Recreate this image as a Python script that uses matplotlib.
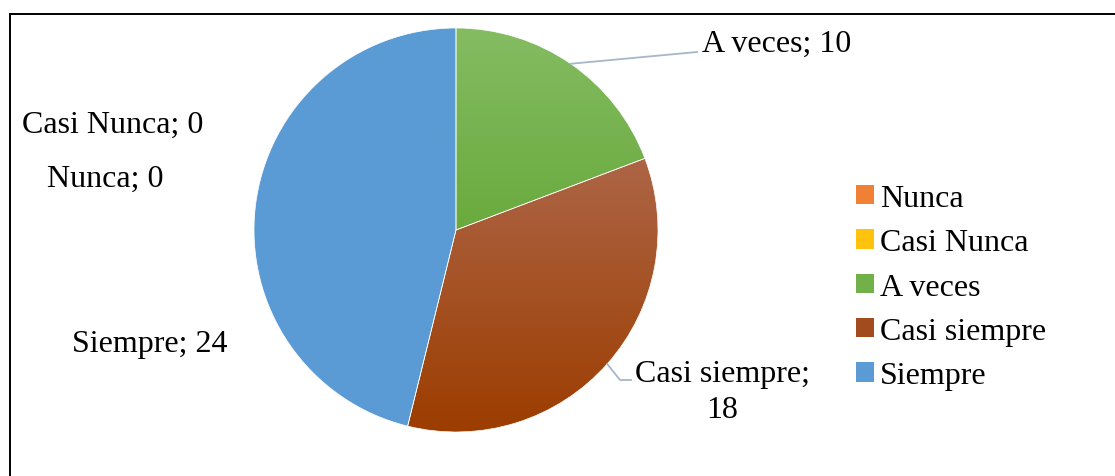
import numpy as np
import matplotlib.pyplot as plt
from matplotlib.patches import Rectangle, Patch
from matplotlib.colors import LinearSegmentedColormap

plt.rcParams['font.family'] = ['Liberation Serif', 'DejaVu Serif']

W, H = 1115, 477

# datos
categorias = ['Nunca', 'Casi Nunca', 'A veces', 'Casi siempre', 'Siempre']
valores = [0, 0, 10, 18, 24]
color_top = ['#F4955A', '#FFCA2C', '#85BC63', '#AD6546', '#5B9BD5']
color_bot = ['#E8701F', '#F0B400', '#69AA3D', '#9C3D00', '#5B9BD5']
color_leg = ['#EF8034', '#FFC20E', '#72B04A', '#A24B1E', '#5B9BD5']

fig = plt.figure(figsize=(W / 100, H / 100), dpi=100)
ax = fig.add_axes([0, 0, 1, 1])

cx, cy, r = 456, H - 231, 202
wedges, _ = ax.pie(valores, center=(cx, cy), radius=r, startangle=90,
                   counterclock=False, colors=color_leg,
                   wedgeprops=dict(linewidth=0))

# degradado vertical en cada porcion
grad = np.linspace(0, 1, 256).reshape(-1, 1)
for w, v, c0, c1 in zip(wedges, valores, color_top, color_bot):
    if v == 0:
        continue
    ext = w.get_path().get_extents()
    cm = LinearSegmentedColormap.from_list('g', [c0, c1])
    im = ax.imshow(grad, cmap=cm, extent=(ext.x0, ext.x1, ext.y0, ext.y1),
                   origin='upper', aspect='auto', zorder=2)
    im.set_clip_path(w)
    w.set_facecolor('none')
    w.set_edgecolor('white')
    w.set_linewidth(0.5)
    w.set_zorder(3)

ax.set_xlim(0, W)
ax.set_ylim(0, H)
ax.axis('off')

fs = 23
lc = '#A7B6C9'

# etiquetas de datos
def borde(w):
    a = np.deg2rad((w.theta1 + w.theta2) / 2)
    return cx + r * np.cos(a), cy + r * np.sin(a)

x0, y0 = borde(wedges[2])
ax.plot([x0, 697], [y0, H - 53], color=lc, lw=1.3, zorder=4)
ax.text(702, H - 52, f'{categorias[2]}; {valores[2]}', fontsize=fs,
        ha='left', va='baseline')

x0, y0 = borde(wedges[3])
ax.plot([x0, 620, 631], [y0, H - 381, H - 381], color=lc, lw=1.3, zorder=4)
ax.text(722.5, H - 382, f'{categorias[3]};', fontsize=fs, ha='center', va='baseline')
ax.text(722.5, H - 418, f'{valores[3]}', fontsize=fs, ha='center', va='baseline')

ax.text(22, H - 133, f'{categorias[1]}; {valores[1]}', fontsize=fs,
        ha='left', va='baseline')
ax.text(47, H - 187, f'{categorias[0]}; {valores[0]}', fontsize=fs,
        ha='left', va='baseline')
ax.text(72, H - 352, f'{categorias[4]}; {valores[4]}', fontsize=fs,
        ha='left', va='baseline')

# leyenda
handles = [Patch(facecolor=c, edgecolor='none') for c in color_leg]
ax.legend(handles, categorias, loc='upper left',
          bbox_to_anchor=(856 / W, 1 - 185 / H), frameon=False,
          fontsize=fs, handlelength=0.55, handleheight=0.55,
          handletextpad=0.2, labelspacing=0.48, borderpad=0,
          borderaxespad=0)

# marco
ax.add_patch(Rectangle((9.5, -20), W + 20, H - 14.5 + 20, fill=False,
                       edgecolor='black', lw=1.4, zorder=5, clip_on=False))

fig.savefig('out.png', dpi=100)
